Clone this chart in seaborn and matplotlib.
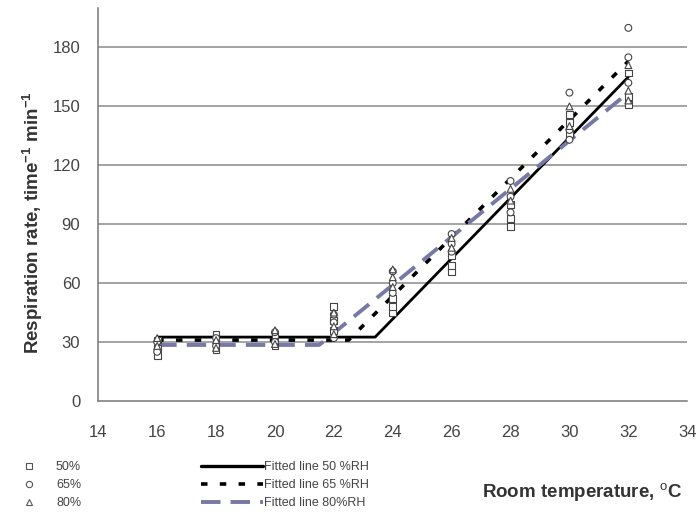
import numpy as np
import pandas as pd
import matplotlib
matplotlib.use("Agg")
import matplotlib.pyplot as plt
from matplotlib.lines import Line2D
import seaborn as sns

# ---------------- data ----------------
temps = [16, 18, 20, 22, 24, 26, 28, 30, 32]
rh50_vals = [[23, 27, 31], [26, 30, 34], [28, 31, 34], [36, 41, 48], [45, 48, 52],
             [66, 69, 74], [89, 93, 100], [136, 142, 146], [151, 155, 167]]
rh65_vals = [[25, 30], [28, 32], [30, 35], [32, 40, 44], [55, 60, 66],
             [76, 80, 85], [96, 104, 112], [133, 138, 157], [162, 175, 190]]
rh80_vals = [[28, 32], [27, 31], [29, 36], [34, 38, 45], [58, 63, 67],
             [78, 83], [102, 108], [140, 150], [153, 158, 171]]
rh_labels = ["50%", "65%", "80%"]

fit50_x = [16, 23.4, 32]
fit50_y = [32.5, 32.5, 165]
fit65_x = [16, 22.5, 32]
fit65_y = [31, 31, 173]
fit80_x = [16, 21.5, 32]
fit80_y = [28.5, 28.5, 157]
fit_labels = ["Fitted line 50 %RH", "Fitted line 65 %RH", "Fitted line 80%RH"]

y_ticks = [0, 30, 60, 90, 120, 150, 180]
x_ticks = [14, 16, 18, 20, 22, 24, 26, 28, 30, 32, 34]

# ---------------- build table ----------------
rows = []
for lab, series in zip(rh_labels, [rh50_vals, rh65_vals, rh80_vals]):
    for t, vals in zip(temps, series):
        for v in vals:
            rows.append({"temp": t, "rate": v, "RH": lab})
df = pd.DataFrame(rows)

sns.set_style("white")
plt.rcParams["font.family"] = ["Liberation Sans", "DejaVu Sans"]
plt.rcParams["mathtext.fontset"] = "custom"
plt.rcParams["mathtext.rm"] = "Liberation Sans"
plt.rcParams["mathtext.bf"] = "Liberation Sans:bold"

fig = plt.figure(figsize=(6.97, 5.14), dpi=100)
ax = fig.add_axes([0.141, 0.22, 0.845, 0.764])

grid_c = "#8a8a8a"
for yv in y_ticks[1:]:
    ax.axhline(yv, color=grid_c, lw=1.1, zorder=0)

line_c80 = "#7878a6"
sns.lineplot(x=fit50_x, y=fit50_y, ax=ax, color="black", lw=2.0,
             sort=False, estimator=None, zorder=2)
sns.lineplot(x=fit65_x, y=fit65_y, ax=ax, color="black", lw=2.6,
             linestyle=(0, (1.8, 3.4)), sort=False, estimator=None, zorder=2)
sns.lineplot(x=fit80_x, y=fit80_y, ax=ax, color=line_c80, lw=2.8,
             linestyle=(0, (5, 2.6)), sort=False, estimator=None, zorder=2)

mk = {"50%": "s", "65%": "o", "80%": "^"}
sns.scatterplot(data=df, x="temp", y="rate", style="RH", markers=mk, ax=ax,
                s=24, facecolor="white", edgecolor="#444444", linewidth=0.8,
                legend=False, zorder=3)

ax.set_xlim(14, 34)
ax.set_ylim(0, 200)
ax.set_xticks(x_ticks)
ax.set_yticks(y_ticks)
for s in ["top", "right"]:
    ax.spines[s].set_visible(False)
for s in ["left", "bottom"]:
    ax.spines[s].set_color("#777777")
    ax.spines[s].set_linewidth(1.1)
ax.tick_params(axis="both", direction="out", length=5, width=1, color="#777777",
               labelsize=12, labelcolor="#444444")
ax.tick_params(axis="y", pad=8)
ax.tick_params(axis="x", pad=12)
ax.set_xlabel("")
ax.set_ylabel(r"Respiration rate, time$^{\mathbf{-1}}$ min$^{\mathbf{-1}}$",
              fontsize=13.5, fontweight="bold", color="#333333")
ax.yaxis.set_label_coords(-0.090, 0.453)

fig.text(0.978, 0.041, r"Room temperature, $^{\mathrm{o}}$C", ha="right",
         va="center", fontsize=13.5, fontweight="bold", color="#333333")

# marker legend
mhandles = [Line2D([], [], marker=mk[l], linestyle="none", markersize=4.5,
                   markerfacecolor="white", markeredgecolor="#555555",
                   markeredgewidth=0.8) for l in rh_labels]
leg1 = fig.legend(mhandles, rh_labels, loc="upper left",
                  bbox_to_anchor=(0.014, 0.125), frameon=False, fontsize=9,
                  handlelength=1.2, handletextpad=1.6, labelspacing=0.5,
                  labelcolor="#444444")

# fitted line legend
lhandles = [Line2D([], [], color="black", lw=2.4),
            Line2D([], [], color="black", lw=2.6, linestyle=(0, (1.8, 3.4))),
            Line2D([], [], color=line_c80, lw=2.8, linestyle=(0, (5, 2.6)))]
leg2 = fig.legend(lhandles, fit_labels, loc="upper left",
                  bbox_to_anchor=(0.272, 0.125), frameon=False, fontsize=9,
                  handlelength=5.0, handletextpad=0.05, labelspacing=0.5,
                  labelcolor="#444444")

fig.savefig("out.png", dpi=100)
